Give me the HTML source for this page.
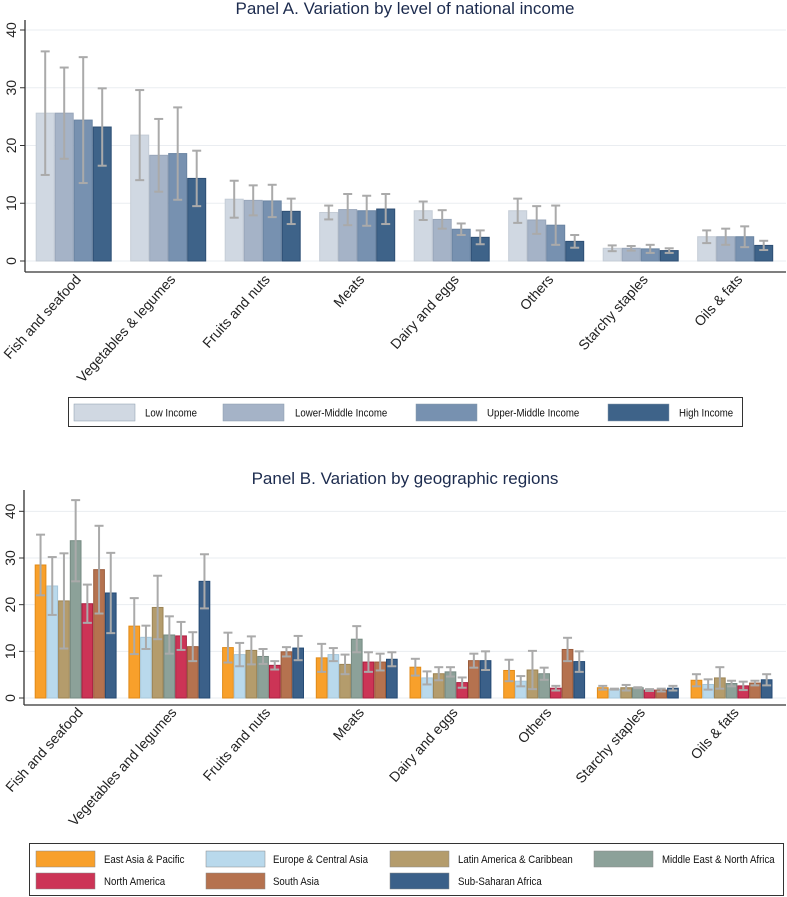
<!DOCTYPE html>
<html><head><meta charset="utf-8"><style>
html,body{margin:0;padding:0;background:#fff;}
svg{display:block;font-family:"Liberation Sans",sans-serif;}
</style></head><body>
<svg id="chart" width="787" height="897" viewBox="0 0 787 897" xmlns="http://www.w3.org/2000/svg">
<text x="405" y="14" text-anchor="middle" font-size="17" fill="#1c2b4e">Panel A. Variation by level of national income</text>
<text x="405" y="484" text-anchor="middle" font-size="17" fill="#1c2b4e">Panel B. Variation by geographic regions</text>
<g id="pa"></g>
<g id="pb"></g>
<rect x="68.5" y="397.5" width="674" height="29" fill="#fff" stroke="#333" stroke-width="1"/>
<g id="lga"></g>
<rect x="29.5" y="843.5" width="754" height="52" fill="#fff" stroke="#333" stroke-width="1"/>
<g id="lgb"></g>
</svg>
<script>
const categoriesA = ["Fish and seafood","Vegetables & legumes","Fruits and nuts","Meats","Dairy and eggs","Others","Starchy staples","Oils & fats"];
const seriesA = ["Low Income","Lower-Middle Income","Upper-Middle Income","High Income"];
const lowIncome = [25.6,21.8,10.7,8.4,8.7,8.7,2.2,4.2];
const lowerMiddleIncome = [25.6,18.3,10.5,8.9,7.2,7.1,2.2,4.2];
const upperMiddleIncome = [24.4,18.6,10.4,8.7,5.5,6.2,2.1,4.2];
const highIncome = [23.2,14.3,8.6,9.0,4.1,3.4,1.8,2.7];
const errLow = [10.7,7.8,3.2,1.2,1.6,2.1,0.5,1.1];
const errLowerMiddle = [7.9,6.3,2.6,2.7,1.6,2.4,0.4,1.4];
const errUpperMiddle = [10.9,8.0,2.8,2.6,1.0,3.4,0.7,1.8];
const errHigh = [6.7,4.8,2.2,2.6,1.2,1.1,0.4,0.8];
const ticksA = [0,10,20,30,40];

const categoriesB = ["Fish and seafood","Vegetables and legumes","Fruits and nuts","Meats","Dairy and eggs","Others","Starchy staples","Oils & fats"];
const seriesB = ["East Asia & Pacific","Europe & Central Asia","Latin America & Caribbean","Middle East & North Africa","North America","South Asia","Sub-Saharan Africa"];
const eastAsia = [28.5,15.4,10.8,8.6,6.6,5.9,2.2,3.8];
const europe = [24.0,13.0,9.3,9.3,4.3,3.6,1.9,2.9];
const latinAmerica = [20.8,19.4,10.2,7.2,5.2,6.0,2.2,4.3];
const middleEast = [33.7,13.5,8.9,12.6,5.6,5.2,2.2,3.1];
const northAmerica = [20.2,13.3,7.0,7.7,3.3,2.1,1.7,2.6];
const southAsia = [27.5,11.0,9.9,7.7,8.0,10.4,1.7,3.2];
const subSaharan = [22.5,25.0,10.7,8.3,8.0,7.8,2.1,3.9];
const errEastAsia = [6.5,6.0,3.2,3.0,1.8,2.3,0.4,1.3];
const errEurope = [6.2,2.5,2.5,1.4,1.4,1.1,0.1,1.1];
const errLatin = [10.2,6.8,3.0,2.1,1.4,4.1,0.6,2.3];
const errMiddleEast = [8.7,4.0,1.6,2.8,1.0,1.3,0.1,0.6];
const errNorthAmerica = [4.1,3.0,0.9,2.1,1.1,0.5,0.2,0.9];
const errSouthAsia = [9.4,3.1,1.0,1.8,1.5,2.5,0.3,0.5];
const errSubSaharan = [8.6,5.8,2.6,1.5,2.0,2.2,0.5,1.2];
const ticksB = [0,10,20,30,40];

const NS="http://www.w3.org/2000/svg";
function mk(parent,tag,attrs,text){const e=document.createElementNS(NS,tag);for(const k in attrs)e.setAttribute(k,attrs[k]);if(text!==undefined)e.textContent=text;parent.appendChild(e);return e;}

function panel(g,o){
  const y=v=>o.y0-v*o.k;
  const gx=i=>o.x0+i*o.gap;
  o.ticks.forEach(t=>{
    const gl=mk(g,"line",{x1:o.ax,x2:786,y1:y(t),y2:y(t),stroke:"#eaedf1","stroke-width":1});
    
    
    const tk=mk(g,"line",{x1:o.ax-5,x2:o.ax,y1:y(t),y2:y(t),stroke:"#333","stroke-width":1});
    
    
    const tl=mk(g,"text",{x:0,y:0,transform:`translate(${o.ax-9},${y(t)}) rotate(-90)`,"text-anchor":"middle","font-size":14,fill:"#222"},String(t));
    
    
  });
  const bw=o.bw;
  o.series.forEach((vals,s)=>{
    vals.forEach((v,i)=>{
      const x=gx(i)+s*bw;
      const r=mk(g,"rect",{x:x+0.5,y:y(v),width:bw-1,height:o.y0-y(v),fill:o.colors[s],stroke:o.edges[s],"stroke-width":1});
      
      
    });
  });
  o.series.forEach((vals,s)=>{
    vals.forEach((v,i)=>{
      const cx=gx(i)+s*bw+bw/2;const e=o.errs[s][i];
      const lo=y(Math.max(0,v-e)),hi=y(v+e);
      const eg=mk(g,"g",{stroke:"#aaaaaa","stroke-width":2});
      
      
      mk(eg,"line",{x1:cx,x2:cx,y1:lo,y2:hi});
      mk(eg,"line",{x1:cx-4.5,x2:cx+4.5,y1:lo,y2:lo});
      mk(eg,"line",{x1:cx-4.5,x2:cx+4.5,y1:hi,y2:hi});
    });
  });
  const ya=mk(g,"line",{x1:o.ax,x2:o.ax,y1:o.top,y2:o.xa,stroke:"#333","stroke-width":1.3});
  
  
  const xa=mk(g,"line",{x1:o.ax,x2:786,y1:o.xa,y2:o.xa,stroke:"#333","stroke-width":1.3});
  
  
  o.cats.forEach((c,i)=>{
    const cx=gx(i)+o.series.length*bw/2;
    const t=mk(g,"text",{x:0,y:0,transform:`translate(${cx+8},${o.xa+8}) rotate(-48)`,"text-anchor":"end","font-size":14,fill:"#222"},c);
    
    
  });
}

panel(document.getElementById("pa"),{y0:261,k:5.775,ax:25,top:20,xa:272,x0:35.7,gap:94.5,bw:19,ticks:ticksA,cats:categoriesA,
  series:[lowIncome,lowerMiddleIncome,upperMiddleIncome,highIncome],
  errs:[errLow,errLowerMiddle,errUpperMiddle,errHigh],
  colors:["#d0d8e2","#a5b3c7","#7791b0","#3e6389"],edges:["#c4ccd6","#98a6ba","#6a84a2","#2e4f74"]});

panel(document.getElementById("pb"),{y0:698,k:4.667,ax:24,top:490,xa:705,x0:34.7,gap:93.7,bw:11.7,ticks:ticksB,cats:categoriesB,
  series:[eastAsia,europe,latinAmerica,middleEast,northAmerica,southAsia,subSaharan],
  errs:[errEastAsia,errEurope,errLatin,errMiddleEast,errNorthAmerica,errSouthAsia,errSubSaharan],
  colors:["#f8a02b","#b9d9ec","#b49c6c","#8ca199","#cc3456","#b5724f","#3b6089"],
  edges:["#e08a18","#a6c6da","#9c8455","#768a82","#a82040","#9a5c3c","#244a74"]});

const lga=document.getElementById("lga");
const legAx=[74,223,416,608],legAt=[145,295,487,679];
const colA=["#d0d8e2","#a5b3c7","#7791b0","#3e6389"];
seriesA.forEach((n,i)=>{
  const r=mk(lga,"rect",{x:legAx[i],y:404,width:61,height:17,fill:colA[i],stroke:"#8899aa","stroke-width":0.5});
  
  
  const t=mk(lga,"text",{x:0,y:0,transform:`translate(${legAt[i]},416.5) scale(0.84,1)`,"font-size":11.5,fill:"#111"},n);
  
  
});
const lgb=document.getElementById("lgb");
const legBx=[36,206,390,594],legBt=[104,273,458,662];
const colB=["#f8a02b","#b9d9ec","#b49c6c","#8ca199","#cc3456","#b5724f","#3b6089"];
seriesB.forEach((n,i)=>{
  const c=i%4,rw=Math.floor(i/4);const yy=851+rw*22;
  const r=mk(lgb,"rect",{x:legBx[c],y:yy,width:59,height:16,fill:colB[i],stroke:"#888","stroke-width":0.5});
  
  
  const t=mk(lgb,"text",{x:0,y:0,transform:`translate(${legBt[c]},${yy+12}) scale(0.84,1)`,"font-size":11.5,fill:"#111"},n);
  
  
});
</script>
</body></html>
